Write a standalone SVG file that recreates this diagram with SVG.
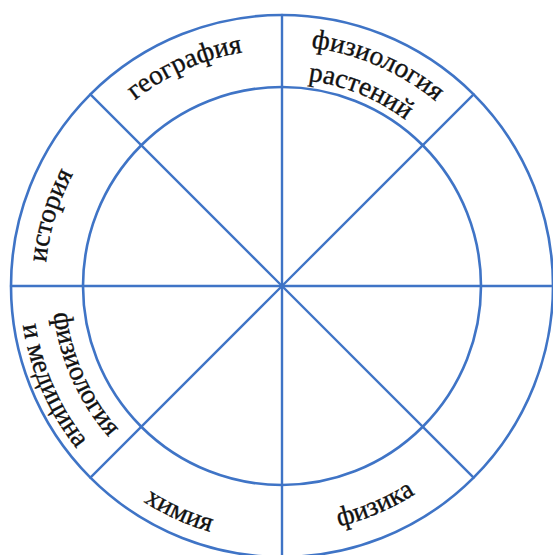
<svg xmlns="http://www.w3.org/2000/svg" width="553" height="555" viewBox="0 0 553 555">
<style>
.ring{fill:none;stroke:#3f74c6;stroke-width:2.6}
.spoke{stroke:#3f74c6;stroke-width:2.4;stroke-linecap:round}
.lbl{font-family:"Liberation Serif","Times New Roman",serif;font-size:27.5px;fill:#111111;stroke:#111111;stroke-width:0.35}
</style>
<defs>
<path id="p-geo" d="M76.75,167.5 A237,237 0 0 1 331.28,54.18"/>
<path id="p-fr1" d="M229.7,51.8 A240,240 0 0 1 488.6,163.8"/>
<path id="p-fr2" d="M231.9,85.15 A207,207 0 0 1 457.5,176.3"/>
<path id="p-ist" d="M57.9,363.2 A237,237 0 0 1 139.4,96.7"/>
<path id="p-fm1" d="M57,238.2 A230,230 0 0 0 167,485.2"/>
<path id="p-fm2" d="M26.2,229.3 A262,262 0 0 0 149,511.7"/>
<path id="p-him" d="M58.9,412.2 A256,256 0 0 0 333.2,536.8"/>
<path id="p-fiz" d="M226.4,526.7 A247,247 0 0 0 493.7,413.2"/>
</defs>
<rect width="553" height="555" fill="#ffffff"/>
<g id="rings">
<circle class="ring" cx="282" cy="286" r="271"/>
<circle class="ring" cx="282" cy="286" r="199"/>
</g>
<g id="connectors">
<line class="spoke" x1="282" y1="286" x2="282" y2="15"/>
<line class="spoke" x1="282" y1="286" x2="282" y2="557"/>
<line class="spoke" x1="282" y1="286" x2="11" y2="286"/>
<line class="spoke" x1="282" y1="286" x2="553" y2="286"/>
<line class="spoke" x1="282" y1="286" x2="90.4" y2="94.4"/>
<line class="spoke" x1="282" y1="286" x2="473.6" y2="94.4"/>
<line class="spoke" x1="282" y1="286" x2="90.4" y2="477.6"/>
<line class="spoke" x1="282" y1="286" x2="473.6" y2="477.6"/>
</g>
<g id="node-geografiya"><text class="lbl" text-anchor="middle"><textPath href="#p-geo" startOffset="50%">география</textPath></text></g>
<g id="node-fiziologiya-rasteniy">
<text class="lbl" text-anchor="middle"><textPath href="#p-fr1" startOffset="50%">физиология</textPath></text>
<text class="lbl" text-anchor="middle"><textPath href="#p-fr2" startOffset="50%">растений</textPath></text>
</g>
<g id="node-istoriya"><text class="lbl" text-anchor="middle"><textPath href="#p-ist" startOffset="50%">история</textPath></text></g>
<g id="node-fiziologiya-meditsina">
<text class="lbl" text-anchor="middle"><textPath href="#p-fm1" startOffset="50%">физиология</textPath></text>
<text class="lbl" text-anchor="middle"><textPath href="#p-fm2" startOffset="50%">и медицина</textPath></text>
</g>
<g id="node-khimiya"><text class="lbl" text-anchor="middle"><textPath href="#p-him" startOffset="50%">химия</textPath></text></g>
<g id="node-fizika"><text class="lbl" text-anchor="middle"><textPath href="#p-fiz" startOffset="50%">физика</textPath></text></g>
</svg>
